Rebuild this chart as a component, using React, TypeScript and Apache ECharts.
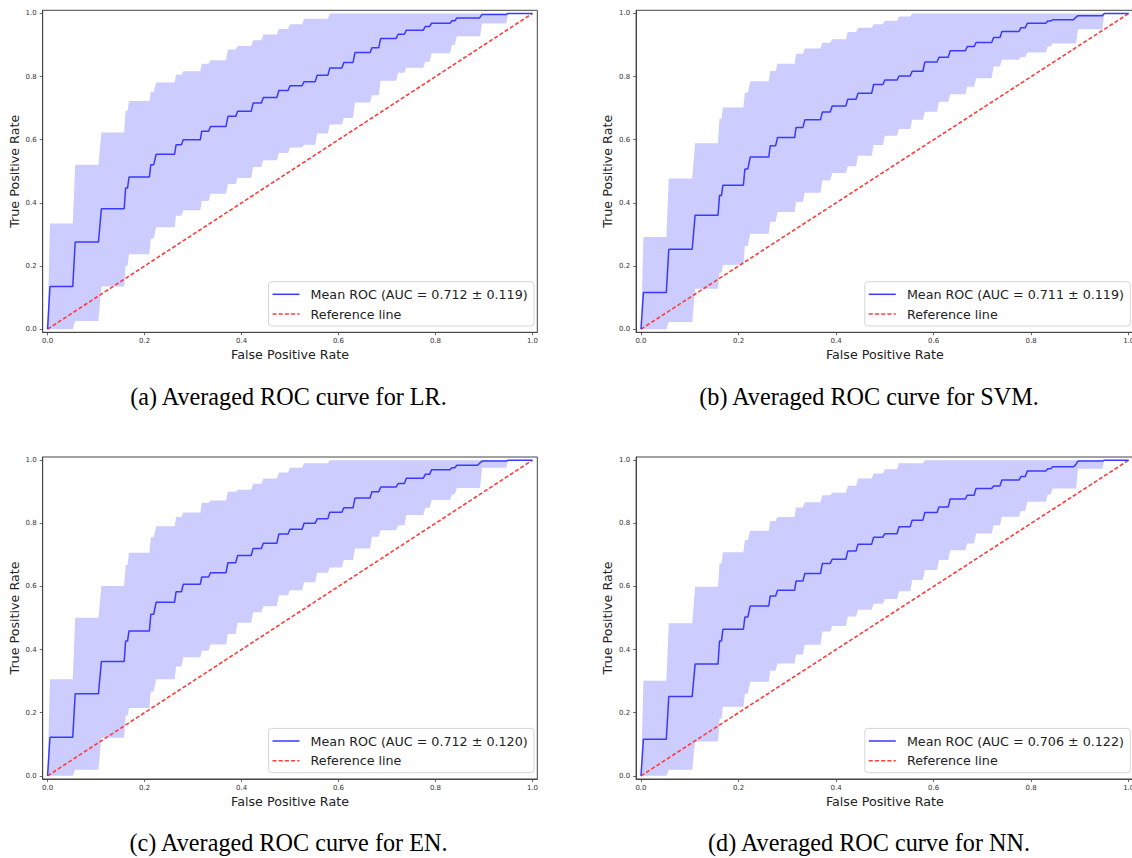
import React, { useEffect, useRef } from "react";
import * as echarts from "echarts";

// Shared x-positions (FPR) where the averaged curves step up: [start, end]
const RISES: [number, number][] = [
  [0, 0.005], [0.052, 0.057], [0.105, 0.111], [0.158, 0.161], [0.165, 0.168],
  [0.21, 0.213], [0.219, 0.224], [0.262, 0.265], [0.276, 0.28], [0.315, 0.318],
  [0.332, 0.336], [0.368, 0.372], [0.388, 0.392], [0.42, 0.424], [0.441, 0.445],
  [0.473, 0.477], [0.496, 0.5], [0.525, 0.529], [0.552, 0.556], [0.578, 0.582],
  [0.607, 0.611], [0.63, 0.634], [0.665, 0.669], [0.683, 0.687], [0.719, 0.723],
  [0.736, 0.74], [0.775, 0.779], [0.788, 0.792], [0.83, 0.834], [0.84, 0.844],
  [0.887, 0.891], [0.892, 0.896], [0.942, 0.946], [0.946, 0.95],
];

// TPR level after each rise
const MEAN_LR = [0.135, 0.276, 0.381, 0.447, 0.482, 0.521, 0.554, 0.584, 0.6, 0.627, 0.642, 0.674, 0.69, 0.716, 0.734, 0.756, 0.771, 0.784, 0.804, 0.827, 0.845, 0.876, 0.891, 0.921, 0.934, 0.947, 0.959, 0.969, 0.977, 0.986, 0.986, 0.997, 0.997, 1.0];
const UPPER_LR = [0.335, 0.521, 0.623, 0.692, 0.723, 0.751, 0.781, 0.806, 0.817, 0.841, 0.852, 0.886, 0.897, 0.915, 0.933, 0.951, 0.966, 0.983, 0.983, 1, 1, 1, 1, 1, 1, 1, 1, 1, 1, 1, 1, 1, 1, 1];
const LOWER_LR = [0, 0.026, 0.135, 0.2, 0.237, 0.286, 0.323, 0.359, 0.377, 0.406, 0.429, 0.46, 0.479, 0.514, 0.535, 0.558, 0.575, 0.584, 0.62, 0.648, 0.669, 0.718, 0.741, 0.787, 0.812, 0.828, 0.847, 0.874, 0.9, 0.928, 0.928, 0.968, 0.968, 1.0];

const MEAN_SVM = [0.116, 0.253, 0.361, 0.423, 0.456, 0.507, 0.545, 0.581, 0.607, 0.639, 0.663, 0.688, 0.707, 0.728, 0.747, 0.775, 0.789, 0.802, 0.817, 0.846, 0.861, 0.882, 0.895, 0.908, 0.924, 0.943, 0.955, 0.969, 0.976, 0.98, 0.987, 0.993, 0.993, 1.0];
const UPPER_SVM = [0.292, 0.477, 0.589, 0.666, 0.702, 0.749, 0.785, 0.818, 0.841, 0.872, 0.889, 0.907, 0.918, 0.941, 0.955, 0.966, 0.977, 0.99, 1, 1, 1, 1, 1, 1, 1, 1, 1, 1, 1, 1, 1, 1, 1, 1];
const LOWER_SVM = [0, 0.023, 0.128, 0.179, 0.204, 0.263, 0.302, 0.34, 0.371, 0.403, 0.432, 0.471, 0.495, 0.516, 0.549, 0.583, 0.613, 0.634, 0.663, 0.689, 0.72, 0.744, 0.768, 0.795, 0.832, 0.853, 0.862, 0.876, 0.895, 0.905, 0.905, 0.95, 0.95, 1.0];

const MEAN_EN = [0.122, 0.26, 0.362, 0.427, 0.459, 0.512, 0.55, 0.583, 0.607, 0.63, 0.643, 0.675, 0.698, 0.72, 0.737, 0.766, 0.781, 0.8, 0.814, 0.835, 0.849, 0.88, 0.9, 0.915, 0.926, 0.943, 0.955, 0.97, 0.976, 0.984, 0.99, 0.997, 0.997, 1.0];
const UPPER_EN = [0.306, 0.501, 0.601, 0.668, 0.707, 0.756, 0.791, 0.82, 0.834, 0.865, 0.872, 0.9, 0.906, 0.925, 0.942, 0.961, 0.976, 0.99, 0.99, 1, 1, 1, 1, 1, 1, 1, 1, 1, 1, 1, 1, 1, 1, 1];
const LOWER_EN = [0, 0.019, 0.121, 0.19, 0.215, 0.267, 0.306, 0.346, 0.376, 0.396, 0.416, 0.449, 0.485, 0.518, 0.537, 0.572, 0.588, 0.613, 0.643, 0.66, 0.684, 0.72, 0.757, 0.778, 0.794, 0.826, 0.849, 0.874, 0.891, 0.912, 0.912, 0.976, 0.976, 1.0];

const MEAN_NN = [0.116, 0.251, 0.354, 0.427, 0.464, 0.503, 0.538, 0.57, 0.588, 0.617, 0.641, 0.673, 0.686, 0.712, 0.734, 0.756, 0.767, 0.789, 0.81, 0.834, 0.852, 0.877, 0.889, 0.91, 0.918, 0.937, 0.948, 0.966, 0.973, 0.979, 0.985, 0.997, 0.997, 1.0];
const UPPER_NN = [0.301, 0.483, 0.599, 0.673, 0.708, 0.747, 0.776, 0.807, 0.82, 0.85, 0.867, 0.889, 0.897, 0.919, 0.942, 0.958, 0.971, 0.99, 0.99, 1, 1, 1, 1, 1, 1, 1, 1, 1, 1, 1, 1, 1, 1, 1];
const LOWER_NN = [0, 0.019, 0.109, 0.181, 0.219, 0.26, 0.298, 0.333, 0.356, 0.384, 0.415, 0.457, 0.475, 0.505, 0.526, 0.545, 0.56, 0.585, 0.62, 0.652, 0.684, 0.715, 0.736, 0.768, 0.794, 0.821, 0.839, 0.868, 0.891, 0.91, 0.91, 0.973, 0.973, 1.0];

const AUC_LABELS = ["0.712 ± 0.119", "0.711 ± 0.119", "0.712 ± 0.120", "0.706 ± 0.122"];
const CAPTIONS = [
  "(a) Averaged ROC curve for LR.",
  "(b) Averaged ROC curve for SVM.",
  "(c) Averaged ROC curve for EN.",
  "(d) Averaged ROC curve for NN.",
];
const TICKS = [0, 0.2, 0.4, 0.6, 0.8, 1.0];
const REF_LINE = [[0, 0], [1, 1]];
const REF_NAME = "Reference line";

const MEANS = [MEAN_LR, MEAN_SVM, MEAN_EN, MEAN_NN];
const UPPERS = [UPPER_LR, UPPER_SVM, UPPER_EN, UPPER_NN];
const LOWERS = [LOWER_LR, LOWER_SVM, LOWER_EN, LOWER_NN];

// layout (pixels)
const GRIDS = [
  { left: 42.7, top: 10.3, width: 494.6, height: 322 },
  { left: 636.1, top: 10.3, width: 497.5, height: 322 },
  { left: 42.7, top: 457, width: 494.6, height: 322 },
  { left: 636.1, top: 457, width: 497.5, height: 322 },
];
const LEGEND_POS = [
  [268.5, 281.7],
  [864.8, 281.7],
  [268.5, 728.4],
  [864.8, 728.4],
];
const CAPTION_POS = [
  [288.5, 396],
  [869, 396],
  [288.5, 842],
  [869, 842],
];

function stepPoints(levels: number[]): number[][] {
  const pts: number[][] = [[0, 0]];
  let prev = 0;
  RISES.forEach(([x0, x1], i) => {
    pts.push([x0, prev]);
    pts.push([x1, levels[i]]);
    prev = levels[i];
  });
  pts.push([1, prev]);
  return pts;
}

const FONT = "DejaVu Sans";
const BLUE = "#3a3aff";
const RED = "#ff3b3b";

export default function App() {
  const ref = useRef<HTMLDivElement>(null);
  useEffect(() => {
    if (!ref.current) return;
    const chart = echarts.init(ref.current, null, { renderer: "svg" });

    const grid: any[] = [];
    const xAxis: any[] = [];
    const yAxis: any[] = [];
    const series: any[] = [];
    const graphic: any[] = [];

    for (let i = 0; i < 4; i++) {
      const g = GRIDS[i];
      grid.push({
        ...g,
        show: true,
        borderColor: "#444",
        borderWidth: 1,
        backgroundColor: "transparent",
        containLabel: false,
        outerBoundsMode: "none",
      });
      const axisCommon = {
        gridIndex: i,
        type: "value",
        min: -0.01,
        max: 1.01,
        splitLine: { show: false },
        axisLine: { show: true, onZero: false, lineStyle: { color: "#444", width: 1 } },
        axisTick: { show: true, customValues: TICKS, length: 3, lineStyle: { color: "#444", width: 0.8 } },
        nameLocation: "middle",
        nameTextStyle: { fontFamily: FONT, fontSize: 12.7, color: "#222" },
      };
      xAxis.push({
        ...axisCommon,
        name: "False Positive Rate",
        nameGap: 15.5,
        axisLabel: {
          customValues: TICKS,
          formatter: (v: number) => v.toFixed(1),
          fontFamily: FONT,
          fontSize: 7,
          color: "#333",
          margin: 5,
        },
      });
      yAxis.push({
        ...axisCommon,
        name: "True Positive Rate",
        nameGap: 21.7,
        axisLabel: {
          customValues: TICKS,
          formatter: (v: number) => v.toFixed(1),
          fontFamily: FONT,
          fontSize: 7,
          color: "#333",
          margin: 6,
        },
      });

      const upperPts = stepPoints(UPPERS[i]);
      const lowerPts = stepPoints(LOWERS[i]);
      const band = upperPts.concat(lowerPts.slice().reverse());
      series.push({
        type: "custom",
        name: "± 1 std",
        xAxisIndex: i,
        yAxisIndex: i,
        silent: true,
        z: 1,
        data: band,
        encode: { x: 0, y: 1 },
        renderItem: (params: any, api: any) => {
          if (params.dataIndex !== 0) return null;
          const pts = band.map((p) => api.coord(p));
          return {
            type: "polygon",
            shape: { points: pts },
            style: { fill: "#ccccff", stroke: "none" },
          };
        },
      });
      series.push({
        type: "line",
        name: REF_NAME,
        xAxisIndex: i,
        yAxisIndex: i,
        data: REF_LINE,
        symbol: "none",
        showSymbol: false,
        silent: true,
        z: 2,
        lineStyle: { color: RED, width: 1.6, type: [4, 2.2] },
      });
      series.push({
        type: "line",
        name: `Mean ROC (AUC = ${AUC_LABELS[i]})`,
        xAxisIndex: i,
        yAxisIndex: i,
        data: stepPoints(MEANS[i]),
        symbol: "none",
        showSymbol: false,
        silent: true,
        z: 3,
        lineStyle: { color: BLUE, width: 1.5 },
      });

      const [lx, ly] = LEGEND_POS[i];
      graphic.push({
        type: "group",
        x: lx,
        y: ly,
        silent: true,
        children: [
          {
            type: "rect",
            shape: { x: 0, y: 0, width: 265.5, height: 44.3, r: 3 },
            style: { fill: "rgba(255,255,255,0.85)", stroke: "#d6d6d6", lineWidth: 1 },
          },
          {
            type: "line",
            shape: { x1: 4, y1: 12.6, x2: 31, y2: 12.6 },
            style: { stroke: BLUE, lineWidth: 1.5 },
          },
          {
            type: "line",
            shape: { x1: 4, y1: 32.3, x2: 31, y2: 32.3 },
            style: { stroke: RED, lineWidth: 1.6, lineDash: [4, 2.2] },
          },
          {
            type: "text",
            x: 42.1,
            y: 12.6,
            style: {
              text: `Mean ROC (AUC = ${AUC_LABELS[i]})`,
              fontFamily: FONT,
              fontSize: 12.7,
              fill: "#222",
              verticalAlign: "middle",
              align: "left",
            },
          },
          {
            type: "text",
            x: 42.1,
            y: 32.3,
            style: {
              text: REF_NAME,
              fontFamily: FONT,
              fontSize: 12.7,
              fill: "#222",
              verticalAlign: "middle",
              align: "left",
            },
          },
        ],
      });
      const [cx, cy] = CAPTION_POS[i];
      graphic.push({
        type: "text",
        x: cx,
        y: cy,
        silent: true,
        style: {
          text: CAPTIONS[i],
          fontFamily: "Liberation Serif",
          fontSize: 24.2,
          fill: "#000",
          align: "center",
          verticalAlign: "middle",
        },
      });
    }

    chart.setOption({
      animation: false,
      backgroundColor: "#ffffff",
      grid,
      xAxis,
      yAxis,
      series,
      graphic,
    });
    return () => chart.dispose();
  }, []);

  return (
    <div
      ref={ref}
      style={{ position: "absolute", left: 0, top: 0, width: "1132px", height: "858px" }}
    />
  );
}
